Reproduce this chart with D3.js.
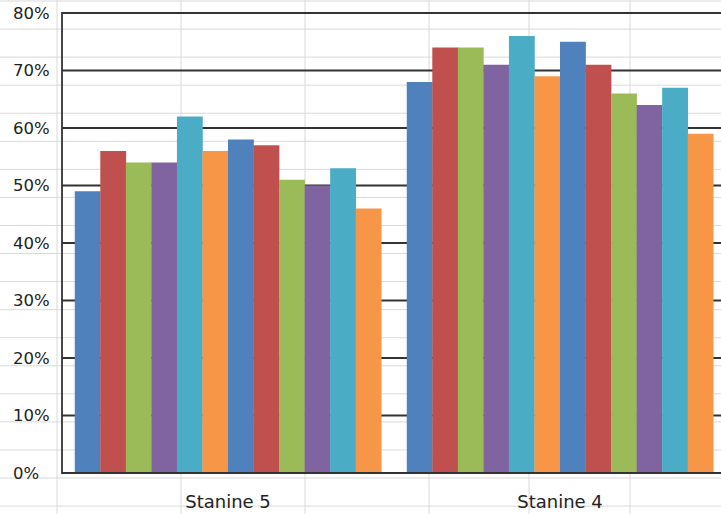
<!DOCTYPE html>
<html>
<head>
<meta charset="utf-8">
<script src="https://cdn.jsdelivr.net/npm/d3@7"></script>
<style>
  body { margin: 0; background: #fff; }
  svg { display: block; }
</style>
</head>
<body>
<svg id="chart" width="721" height="514"></svg>
<script>
// data
const categories = ["Stanine 5", "Stanine 4"]
const series = ["s1", "s2", "s3", "s4", "s5", "s6", "s7", "s8", "s9", "s10", "s11", "s12"]
const stanine5 = [49, 56, 54, 54, 62, 56, 58, 57, 51, 50, 53, 46]
const stanine4 = [68, 74, 74, 71, 76, 69, 75, 71, 66, 64, 67, 59]
const yTicks = [0, 10, 20, 30, 40, 50, 60, 70, 80]
const colors = ["#4F81BD", "#C0504D", "#9BBB59", "#8064A2", "#4BACC6", "#F79646"]

const values = [stanine5, stanine4]

const svg = d3.select('#chart')
const W = 721, H = 514

// worksheet cell grid behind the chart
const sheetCols = [57, 181, 305, 429, 529, 630]
const rowH = 28.06
const sheet = svg.append("g").attr("id", "sheet")
sheet.selectAll(".col").data(sheetCols).enter().append("line")
    .attr("x1", d => d).attr("x2", d => d)
    .attr("y1", 0).attr("y2", H)
    .attr("stroke", "#d9d9d9").attr("stroke-width", 1)
sheet.selectAll(".row").data(d3.range(0, 19)).enter().append("line")
    .attr("x1", 0).attr("x2", W)
    .attr("y1", d => 1 + d * rowH).attr("y2", d => 1 + d * rowH)
    .attr("stroke", "#d9d9d9").attr("stroke-width", 1)

// plot area
const plotLeft = 62, plotTop = 13, plotBottom = 473
const x0 = d3.scaleBand().domain(categories).range([plotLeft, plotLeft + 664]).padding(0)
const x1 = d3.scaleBand().domain(series).range([0, x0.bandwidth()])
    .paddingInner(0).paddingOuter(0.5)
const y = d3.scaleLinear().domain([0, 80]).range([plotBottom, plotTop])

const g = svg.append("g").attr("id", "maingroup")

// gridlines
g.append("g").selectAll("line").data(yTicks).enter().append("line")
    .attr("x1", plotLeft).attr("x2", W)
    .attr("y1", d => y(d)).attr("y2", d => y(d))
    .attr("stroke", "#333").attr("stroke-width", 1.8)

// bars
const groups = g.append("g").selectAll(".cat")
    .data(categories).enter().append("g")
    .attr("transform", d => `translate(${x0(d)},0)`)
groups.selectAll("rect")
    .data((d, i) => values[i].map((v, j) => ({ s: series[j], v: v, j: j })))
    .enter().append("rect")
    .attr("x", d => x1(d.s))
    .attr("width", x1.bandwidth() + 0.3)
    .attr("y", d => y(d.v))
    .attr("height", d => y(0) - y(d.v))
    .attr("fill", d => colors[d.j % colors.length])

// axes lines
g.append("line").attr("x1", plotLeft).attr("x2", plotLeft).attr("y1", plotTop - 0.9).attr("y2", plotBottom + 0.9)
    .attr("stroke", "#333").attr("stroke-width", 1.8)
g.append("line").attr("x1", plotLeft).attr("x2", W).attr("y1", plotBottom).attr("y2", plotBottom)
    .attr("stroke", "#333").attr("stroke-width", 1.8)

// y labels (left aligned like the original)
g.append("g").selectAll("text").data(yTicks).enter().append("text")
    .attr("x", 13).attr("y", d => y(d) + 1)
    .attr("dominant-baseline", "middle")
    .style("font-family", "DejaVu Sans")
    .style("font-size", "16.5px")
    .attr("fill", "#222")
    .text(d => d + "%")

// category labels
g.append("g").selectAll("text").data(categories).enter().append("text")
    .attr("x", d => x0(d) + x0.bandwidth() / 2)
    .attr("y", 508)
    .attr("text-anchor", "middle")
    .style("font-family", "DejaVu Sans")
    .style("font-size", "18px")
    .attr("fill", "#222")
    .text(d => d)
</script>
</body>
</html>
